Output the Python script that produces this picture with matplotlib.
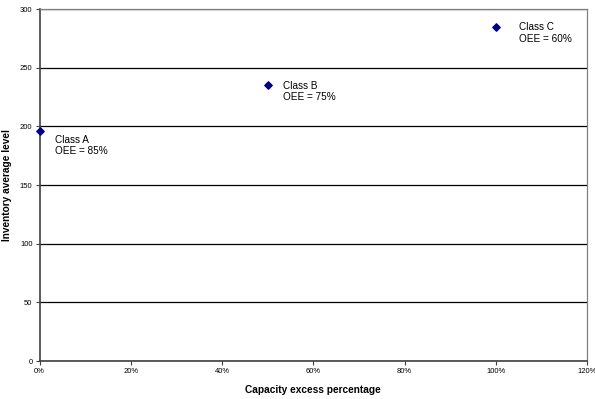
import matplotlib.pyplot as plt
from matplotlib.ticker import PercentFormatter

plt.rcParams['font.family'] = ['Liberation Sans', 'DejaVu Sans']

# capacity excess (fraction) vs inventory average level per class
classes = ['Class A', 'Class B', 'Class C']
oee = ['85%', '75%', '60%']
capacity_excess = [0.0, 0.5, 1.0]
inventory_level = [196, 235, 285]
label_offsets = [(11, -3), (11, 3), (17, 3)]

fig = plt.figure(figsize=(5.95, 3.99), dpi=100)
ax = fig.add_axes([39.5 / 595, 1 - 361 / 399, (587 - 39.5) / 595, (361 - 9) / 399])

ax.set_xlim(0, 1.2)
ax.set_ylim(0, 300)
ax.set_yticks(range(0, 301, 50))
ax.set_xticks([0, 0.2, 0.4, 0.6, 0.8, 1.0, 1.2])
ax.xaxis.set_major_formatter(PercentFormatter(xmax=1, decimals=0))

ax.yaxis.grid(True, color='black', linewidth=0.9)
ax.set_axisbelow(True)

ax.scatter(capacity_excess, inventory_level, marker='D', s=14, color='#000080',
           zorder=3, clip_on=False)

for cls, o, x, y, off in zip(classes, oee, capacity_excess, inventory_level, label_offsets):
    ax.annotate(f'{cls}\nOEE = {o}', (x, y), xytext=off, textcoords='offset points',
                fontsize=7.2, va='top', ha='left', linespacing=1.15)

for side in ['top', 'right']:
    ax.spines[side].set_color('#808080')
    ax.spines[side].set_linewidth(0.9)
for side in ['left', 'bottom']:
    ax.spines[side].set_color('#404040')
    ax.spines[side].set_linewidth(1.2)

ax.tick_params(axis='both', labelsize=5.5, length=3, width=0.8, colors='#404040',
               labelcolor='black', pad=2)

ax.set_xlabel('Capacity excess percentage', fontsize=7.3, fontweight='bold', labelpad=7)
ax.set_ylabel('Inventory average level', fontsize=7.3, fontweight='bold', labelpad=6)

fig.savefig('out.png', dpi=100)
